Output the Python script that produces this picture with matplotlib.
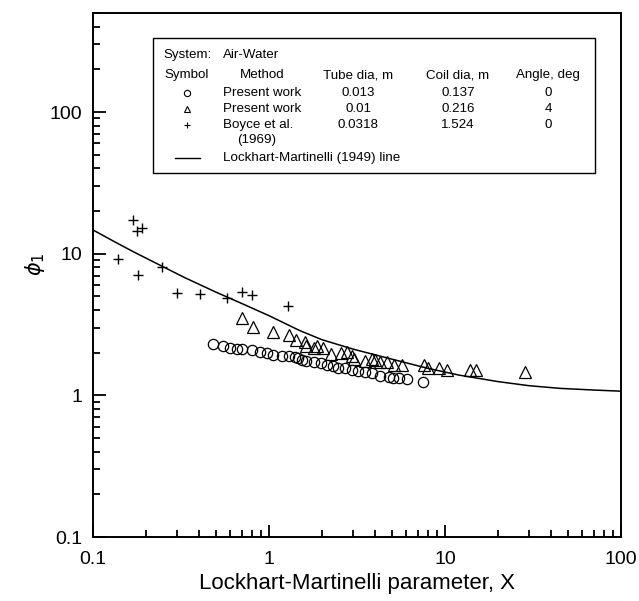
import numpy as np
import matplotlib
matplotlib.use('Agg')
import matplotlib.pyplot as plt
from matplotlib.patches import Rectangle

plt.rcParams['font.family'] = ['Liberation Sans', 'DejaVu Sans']

# Present work, circles (tube 0.013 m, coil 0.137 m, 0 deg)
circ_x = [0.483, 0.546, 0.600, 0.655, 0.70, 0.797, 0.889, 0.970, 1.06, 1.18, 1.30, 1.40,
          1.47, 1.53, 1.62, 1.79, 1.97, 2.13, 2.32, 2.48, 2.70, 2.95, 3.22, 3.51, 3.83,
          4.27, 4.83, 5.09, 5.50, 6.06, 7.53]
circ_y = [2.29, 2.22, 2.17, 2.14, 2.13, 2.08, 2.02, 1.98, 1.94, 1.91, 1.89, 1.87,
          1.83, 1.77, 1.74, 1.72, 1.68, 1.63, 1.61, 1.57, 1.57, 1.52, 1.48, 1.46, 1.43,
          1.38, 1.35, 1.33, 1.33, 1.30, 1.24]

# Present work, triangles (tube 0.01 m, coil 0.216 m, 4 deg)
tri_x = [0.70, 0.81, 1.05, 1.30, 1.42, 1.60, 1.62, 1.79, 1.87, 2.02, 2.24, 2.56, 2.76,
         2.95, 3.04, 3.51, 3.83, 4.00, 4.27, 4.70, 5.13, 5.67, 7.60, 8.04, 9.28, 10.3,
         13.9, 15.0, 28.5]
tri_y = [3.52, 3.03, 2.79, 2.66, 2.44, 2.37, 2.22, 2.17, 2.22, 2.17, 1.97, 2.00, 2.02,
         1.91, 1.81, 1.75, 1.81, 1.77, 1.72, 1.72, 1.65, 1.64, 1.63, 1.57, 1.57, 1.52,
         1.51, 1.51, 1.46]

# Boyce et al. (1969)
boyce_x = [0.168, 0.1785, 0.189, 0.139, 0.179, 0.246, 0.299, 0.406, 0.579, 0.70, 0.804, 1.29]
boyce_y = [17.4, 14.4, 15.3, 9.2, 7.1, 8.1, 5.3, 5.2, 4.9, 5.4, 5.1, 4.3]

# Lockhart-Martinelli (1949) line
lm_x = [0.1, 0.13, 0.17, 0.24, 0.33, 0.5, 0.7, 1.0, 1.5, 2.0, 3.0, 5.0, 8.0, 12.0, 20.0, 30.0, 45.0, 70.0, 100.0]
lm_y = [14.7, 12.3, 10.3, 8.3, 6.8, 5.35, 4.45, 3.65, 2.86, 2.47, 2.12, 1.80, 1.55, 1.39, 1.25, 1.17, 1.12, 1.09, 1.07]

W, H = 639, 601
L, R, T, B = 93, 621, 13, 537

fig = plt.figure(figsize=(W / 100, H / 100), dpi=100)
ax = fig.add_axes([L / W, 1 - B / H, (R - L) / W, (B - T) / H])

ax.plot(lm_x, lm_y, color='black', lw=1.1)
ax.plot(circ_x, circ_y, 'o', ms=7.4, mfc='none', mec='black', mew=0.9)
ax.plot(tri_x, tri_y, '^', ms=8.5, mfc='none', mec='black', mew=0.9)
ax.plot(boyce_x, boyce_y, '+', ms=7, mec='black', mew=1.0)

ax.set_xscale('log')
ax.set_yscale('log')
ax.set_xlim(0.1, 100)
ax.set_ylim(0.1, 500)
ax.set_xticks([0.1, 1, 10, 100])
ax.set_xticklabels(['0.1', '1', '10', '100'])
ax.set_yticks([0.1, 1, 10, 100])
ax.set_yticklabels(['0.1', '1', '10', '100'])
ax.tick_params(which='both', direction='in', top=False, right=False, labelsize=14, width=1.3)
ax.tick_params(which='major', length=9)
ax.tick_params(which='minor', length=5)
ax.tick_params(axis='x', which='major', pad=10)
ax.tick_params(axis='y', which='major', pad=8)
for s in ax.spines.values():
    s.set_linewidth(1.4)

ax.set_xlabel('Lockhart-Martinelli parameter, X', fontsize=16, labelpad=4)
ax.set_ylabel(r'$\phi_1$', fontsize=15)
ax.yaxis.set_label_coords(-0.088, 0.52)


def px(x, y):
    return (x - L) / (R - L), (B - y) / (B - T)


ax.add_patch(Rectangle(px(153, 173), (595 - 153) / (R - L), (173 - 38) / (B - T),
                       transform=ax.transAxes, fill=False, ec='black', lw=1.0))

fs = 9.6
kw = dict(transform=ax.transAxes, fontsize=fs, va='center')
ax.text(*px(163, 55), 'System:', ha='left', **kw)
ax.text(*px(223, 55), 'Air-Water', ha='left', **kw)
headers = ['Symbol', 'Method', 'Tube dia, m', 'Coil dia, m', 'Angle, deg']
hx = [187, 262, 358, 458, 548]
for h, x in zip(headers, hx):
    ax.text(*px(x, 75), h, ha='center', **kw)

rows_y = [93, 109, 125]
methods = ['Present work', 'Present work', 'Boyce et al.']
tubes = ['0.013', '0.01', '0.0318']
coils = ['0.137', '0.216', '1.524']
angles = ['0', '4', '0']
markers = ['o', '^', '+']
for yy, m, t, c, a, mk in zip(rows_y, methods, tubes, coils, angles, markers):
    ax.text(*px(223, yy), m, ha='left', **kw)
    ax.text(*px(358, yy), t, ha='center', **kw)
    ax.text(*px(458, yy), c, ha='center', **kw)
    ax.text(*px(548, yy), a, ha='center', **kw)
    ax.plot(*px(187, yy), mk, transform=ax.transAxes, ms=4.5, mfc='none',
            mec='black', mew=0.8, clip_on=False)
ax.text(*px(237, 140), '(1969)', ha='left', **kw)
x0, y0 = px(175, 158)
x1, _ = px(200, 158)
ax.plot([x0, x1], [y0, y0], transform=ax.transAxes, color='black', lw=1.0)
ax.text(*px(223, 158), 'Lockhart-Martinelli (1949) line', ha='left', **kw)

fig.savefig('out.png', dpi=100)
